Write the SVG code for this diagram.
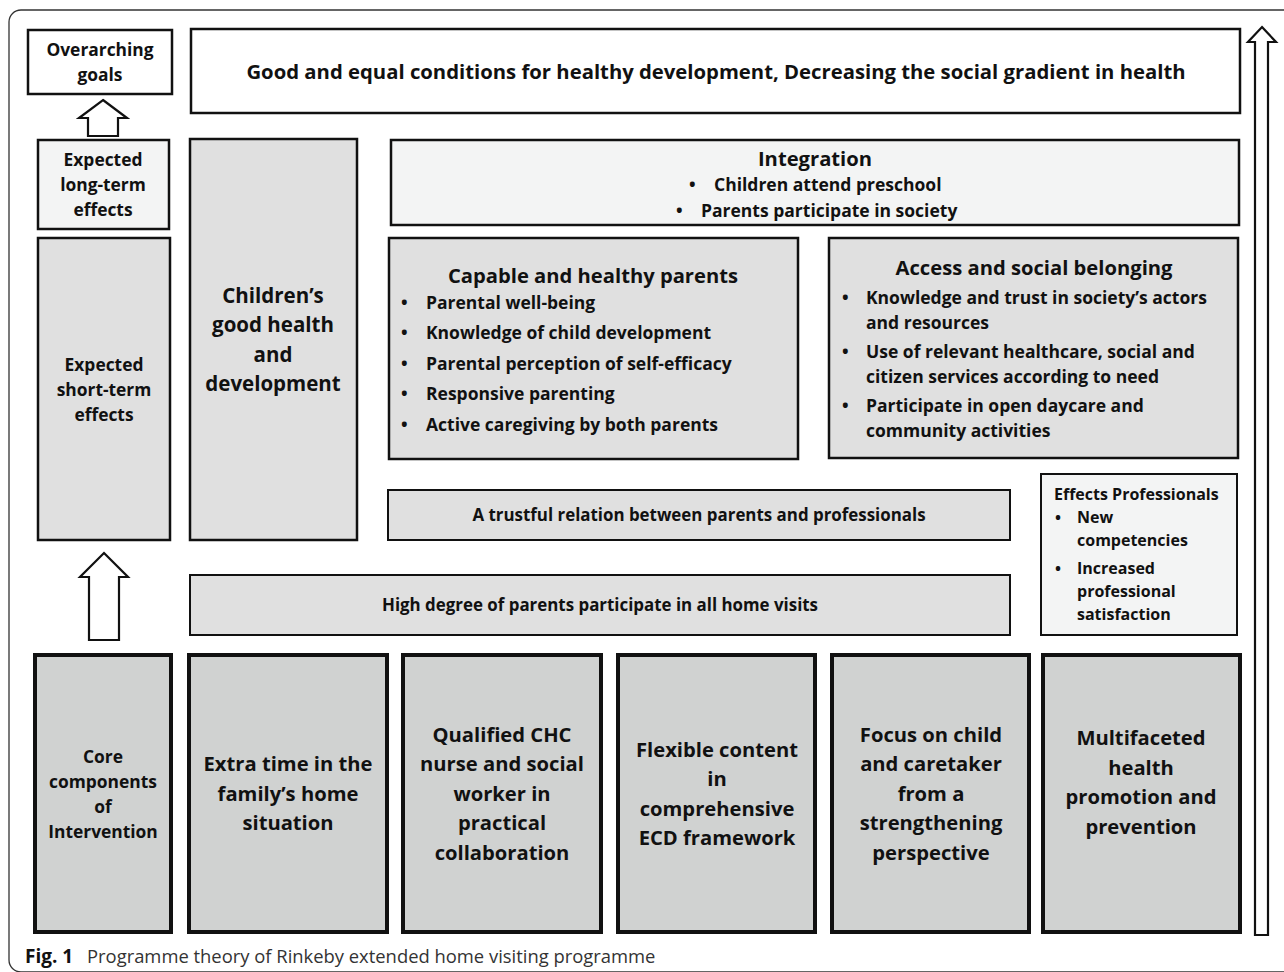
<svg xmlns="http://www.w3.org/2000/svg" width="1284" height="972" viewBox="0 0 1284 972">
<style>
text{font-family:"Open Sans","Noto Sans","Liberation Sans",sans-serif;font-weight:700;fill:#111}
.c{text-anchor:middle}
.b1{fill:#fff;stroke:#111;stroke-width:2.5}
.b2{fill:#f3f4f4;stroke:#111;stroke-width:2.5}
.b3{fill:#e0e0e0;stroke:#111;stroke-width:2.5}
.b4{fill:#e0e0e0;stroke:#111;stroke-width:2}
.b5{fill:#d0d2d1;stroke:#111;stroke-width:4}
.arr{fill:#fff;stroke:#111;stroke-width:2.2;stroke-linejoin:miter}
.s16{font-size:17.4px}
.s20{font-size:20.5px}
.s18{font-size:20.2px}
.s15{font-size:17.5px}
.s17{font-size:16.9px}
.s14{font-size:16px}
.s185{font-size:20.2px}
</style>
<rect x="9" y="10" width="1320" height="962" rx="12" fill="#fff" stroke="#333" stroke-width="1.3"/>

<g id="connectors">
<polygon class="arr" points="103,100 127,118 118,118 118,136 88,136 88,118 79,118"/>
<polygon class="arr" points="104,553 128,577 119,577 119,640 89,640 89,577 80,577"/>
<polygon class="arr" points="1262,27 1276,42 1268,42 1268,935 1255,935 1255,42 1248,42"/>
</g>

<g id="overarching-goals">
<rect class="b1" x="28" y="30" width="144" height="64"/>
<text class="c s16" x="100" y="56">Overarching</text>
<text class="c s16" x="100" y="81">goals</text>
</g>

<g id="goal">
<rect class="b1" x="191" y="29" width="1049" height="84"/>
<text class="c" x="716" y="79" style="font-size:20.3px">Good and equal conditions for healthy development, Decreasing the social gradient in health</text>
</g>

<g id="long-term">
<rect class="b2" x="38" y="140" width="131" height="89"/>
<text class="c s16" x="103" y="166">Expected</text>
<text class="c s16" x="103" y="191">long-term</text>
<text class="c s16" x="103" y="216">effects</text>
</g>

<g id="short-term">
<rect class="b3" x="38" y="238" width="132" height="302"/>
<text class="c s16" x="104" y="371">Expected</text>
<text class="c s16" x="104" y="396">short-term</text>
<text class="c s16" x="104" y="421">effects</text>
</g>

<g id="children">
<rect class="b3" x="190" y="139" width="167" height="401"/>
<text class="c s20" x="273" y="303">Children’s</text>
<text class="c s20" x="273" y="332">good health</text>
<text class="c s20" x="273" y="362">and</text>
<text class="c s20" x="273" y="391">development</text>
</g>

<g id="integration">
<rect class="b2" x="391" y="140" width="848" height="85"/>
<text class="c s18" x="815" y="166">Integration</text>
<text class="s15" x="689" y="191">•</text>
<text class="s15" x="714" y="191">Children attend preschool</text>
<text class="s15" x="676" y="217">•</text>
<text class="s15" x="701" y="217">Parents participate in society</text>
</g>

<g id="capable-parents">
<rect class="b3" x="389" y="238" width="409" height="221"/>
<text class="c s18" x="593" y="283">Capable and healthy parents</text>
<text class="s15" x="401" y="309">•</text><text class="s15" x="426" y="309">Parental well-being</text>
<text class="s15" x="401" y="339">•</text><text class="s15" x="426" y="339">Knowledge of child development</text>
<text class="s15" x="401" y="370">•</text><text class="s15" x="426" y="370">Parental perception of self-efficacy</text>
<text class="s15" x="401" y="400">•</text><text class="s15" x="426" y="400">Responsive parenting</text>
<text class="s15" x="401" y="431">•</text><text class="s15" x="426" y="431">Active caregiving by both parents</text>
</g>

<g id="access">
<rect class="b3" x="829" y="238" width="409" height="220"/>
<text class="c s18" x="1034" y="275">Access and social belonging</text>
<text class="s15" x="842" y="304">•</text><text class="s15" x="866" y="304">Knowledge and trust in society’s actors</text>
<text class="s15" x="866" y="329">and resources</text>
<text class="s15" x="842" y="358">•</text><text class="s15" x="866" y="358">Use of relevant healthcare, social and</text>
<text class="s15" x="866" y="383">citizen services according to need</text>
<text class="s15" x="842" y="412">•</text><text class="s15" x="866" y="412">Participate in open daycare and</text>
<text class="s15" x="866" y="437">community activities</text>
</g>

<g id="trustful">
<rect class="b4" x="388" y="490" width="622" height="50"/>
<text class="c s17" x="699" y="521">A trustful relation between parents and professionals</text>
</g>

<g id="effects-professionals">
<rect class="b2" x="1041" y="474" width="196" height="161" style="stroke-width:2"/>
<text class="s14" x="1054" y="500">Effects Professionals</text>
<text class="s14" x="1055" y="523">•</text><text class="s14" x="1077" y="523">New</text>
<text class="s14" x="1077" y="546">competencies</text>
<text class="s14" x="1055" y="574">•</text><text class="s14" x="1077" y="574">Increased</text>
<text class="s14" x="1077" y="597">professional</text>
<text class="s14" x="1077" y="620">satisfaction</text>
</g>

<g id="high-degree">
<rect class="b4" x="190" y="575" width="820" height="60"/>
<text class="c s17" x="600" y="611">High degree of parents participate in all home visits</text>
</g>

<g id="core">
<rect class="b5" x="35" y="655" width="136" height="277"/>
<text class="c s16" x="103" y="763">Core</text>
<text class="c s16" x="103" y="788">components</text>
<text class="c s16" x="103" y="813">of</text>
<text class="c s16" x="103" y="838">Intervention</text>
</g>

<g id="extra-time">
<rect class="b5" x="189" y="655" width="198" height="277"/>
<text class="c s185" x="288" y="771">Extra time in the</text>
<text class="c s185" x="288" y="801">family’s home</text>
<text class="c s185" x="288" y="830">situation</text>
</g>

<g id="qualified">
<rect class="b5" x="403" y="655" width="198" height="277"/>
<text class="c s185" x="502" y="742">Qualified CHC</text>
<text class="c s185" x="502" y="771">nurse and social</text>
<text class="c s185" x="502" y="801">worker in</text>
<text class="c s185" x="502" y="830">practical</text>
<text class="c s185" x="502" y="860">collaboration</text>
</g>

<g id="flexible">
<rect class="b5" x="618" y="655" width="197" height="277"/>
<text class="c s185" x="717" y="757">Flexible content</text>
<text class="c s185" x="717" y="786">in</text>
<text class="c s185" x="717" y="816">comprehensive</text>
<text class="c s185" x="717" y="845">ECD framework</text>
</g>

<g id="focus">
<rect class="b5" x="832" y="655" width="197" height="277"/>
<text class="c s185" x="931" y="742">Focus on child</text>
<text class="c s185" x="931" y="771">and caretaker</text>
<text class="c s185" x="931" y="801">from a</text>
<text class="c s185" x="931" y="830">strengthening</text>
<text class="c s185" x="931" y="860">perspective</text>
</g>

<g id="multifaceted">
<rect class="b5" x="1043" y="655" width="197" height="277"/>
<text class="c s185" x="1141" y="745">Multifaceted</text>
<text class="c s185" x="1141" y="775">health</text>
<text class="c s185" x="1141" y="804">promotion and</text>
<text class="c s185" x="1141" y="834">prevention</text>
</g>

<g id="caption">
<text x="25" y="963" style="font-size:19px;font-weight:700">Fig. 1</text>
<text x="87" y="963" style="font-size:18.4px;font-weight:400;fill:#333">Programme theory of Rinkeby extended home visiting programme</text>
</g>
</svg>
